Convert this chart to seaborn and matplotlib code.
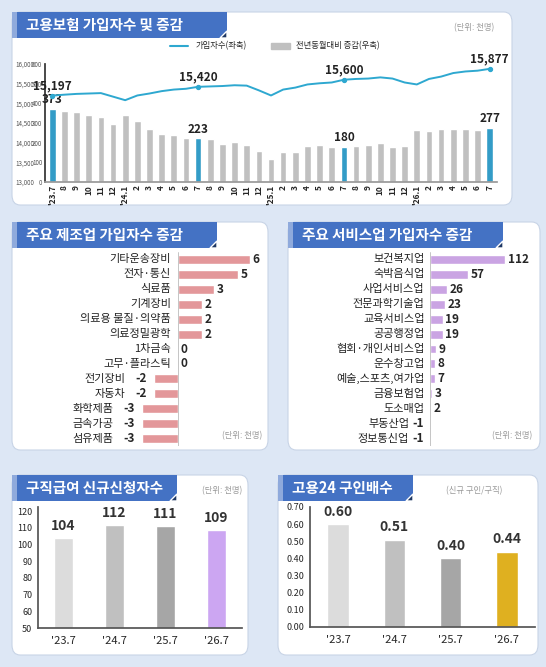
import numpy as np
import pandas as pd
import seaborn as sns
import matplotlib.pyplot as plt
from matplotlib.patches import FancyBboxPatch, Rectangle, Polygon
from matplotlib.lines import Line2D

sns.set_theme(style='white')
plt.rcParams['font.family'] = ['Noto Sans CJK KR', 'DejaVu Sans']

# ---- data ----
months = ["'23.7", '8', '9', '10', '11', '12', "'24.1", '2', '3', '4', '5', '6', '7', '8', '9', '10', '11', '12',
          "'25.1", '2', '3', '4', '5', '6', '7', '8', '9', '10', '11', '12', "'26.1", '2', '3', '4', '5', '6', '7']
insured = [15197, 15220, 15240, 15250, 15260, 15170, 15080, 15200, 15250, 15310, 15350, 15370, 15420,
           15430, 15440, 15460, 15450, 15330, 15200, 15350, 15400, 15480, 15510, 15530, 15600, 15620,
           15630, 15660, 15630, 15530, 15480, 15620, 15680, 15770, 15810, 15830, 15877]
yoy = [373, 360, 358, 340, 333, 297, 340, 312, 270, 243, 240, 226, 223, 220, 195, 205, 187, 160,
       115, 153, 152, 183, 187, 180, 180, 183, 190, 200, 177, 183, 262, 260, 272, 272, 267, 265, 277]
label_idx = [0, 12, 24, 36]

mfg_names = ['기타운송장비', '전자·통신', '식료품', '기계장비', '의료용 물질·의약품', '의료정밀광학', '1차금속',
             '고무·플라스틱', '전기장비', '자동차', '화학제품', '금속가공', '섬유제품']
mfg_vals = [6, 5, 3, 2, 2, 2, 0, 0, -2, -2, -3, -3, -3]

svc_names = ['보건복지업', '숙박음식업', '사업서비스업', '전문과학기술업', '교육서비스업', '공공행정업',
             '협회·개인서비스업', '운수창고업', '예술,스포츠,여가업', '금융보험업', '도소매업', '부동산업', '정보통신업']
svc_vals = [112, 57, 26, 23, 19, 19, 9, 8, 7, 3, 2, -1, -1]

years = ["'23.7", "'24.7", "'25.7", "'26.7"]
claims = [104, 112, 111, 109]
ratio = [0.60, 0.51, 0.40, 0.44]

W, H = 546, 667
fig = plt.figure(figsize=(W / 100, H / 100), dpi=100)
fig.patch.set_facecolor('#dde7f5')


def fx(x):
    return x / W


def fy(y):
    return 1 - y / H


def rect(x0, y0, x1, y1):
    return [fx(x0), fy(y1), fx(x1 - x0), (y1 - y0) / H]


def new_axes(box):
    a = fig.add_axes(rect(*box))
    a.set_zorder(5)
    a.patch.set_alpha(0)
    return a


def panel(x0, y0, x1, y1, title, tw, unit=None, ux=None):
    fig.patches.append(FancyBboxPatch((fx(x0), fy(y1)), fx(x1 - x0), (y1 - y0) / H,
                                      boxstyle='round,pad=0,rounding_size=0.015',
                                      transform=fig.transFigure, facecolor='white',
                                      edgecolor='#c8d4e6', lw=0.8, zorder=-3))
    fig.patches.append(Rectangle((fx(x0), fy(y0 + 26)), fx(5), 26 / H, transform=fig.transFigure,
                                 facecolor='#8faadc', edgecolor='none', zorder=-2))
    fig.patches.append(Rectangle((fx(x0 + 5), fy(y0 + 26)), fx(tw), 26 / H, transform=fig.transFigure,
                                 facecolor='#4472c4', edgecolor='none', zorder=-2))
    fig.patches.append(Polygon([(fx(x0 + 5 + tw), fy(y0 + 26)), (fx(x0 + 5 + tw - 7), fy(y0 + 26)),
                                (fx(x0 + 5 + tw), fy(y0 + 19))], closed=True,
                               transform=fig.transFigure, facecolor='#1f3864', zorder=-1))
    fig.text(fx(x0 + 14), fy(y0 + 13), title, color='white', fontsize=10.5, fontweight='bold',
             va='center', ha='left', zorder=3)
    if unit:
        fig.text(fx(ux), fy(y0 + 16), unit, color='#999999', fontsize=6, va='center', ha='right')


# ---- top panel ----
panel(12, 12, 512, 205, '고용보험 가입자수 및 증감', 210, '(단위: 천명)', 494)
ax = new_axes((45, 64, 497, 182))
colors = ['#1aa7e0' if i in label_idx else '#c0c0c0' for i in range(len(months))]
df = pd.DataFrame({'m': range(len(months)), 'yoy': yoy, 'ins': insured})
sns.barplot(data=df, x='m', y='yoy', hue='m', palette=colors, legend=False, width=0.55, ax=ax)
ax.set_ylim(0, 600)
ax.yaxis.tick_right()
ax.set_yticks(range(0, 601, 100))
ax.tick_params(axis='y', labelsize=4.5, colors='#555555', pad=2, length=0)
ax.set_xticks(range(len(months)))
ax.set_xticklabels(months, rotation=90, fontsize=6, fontweight='bold')
ax.tick_params(axis='x', length=0, pad=2)
ax.set_xlim(-0.6, len(months) - 0.4)
ax.set_xlabel('')
ax.set_ylabel('')
for s in ['top', 'right']:
    ax.spines[s].set_visible(False)
ax.spines['left'].set_color('#333333')
ax.spines['bottom'].set_color('#999999')
for i in label_idx:
    ax.text(i, yoy[i] + 12, f'{yoy[i]}', ha='center', va='bottom', fontsize=8.5, fontweight='bold',
            color='#222222')

ax2 = ax.twinx()
ax2.patch.set_alpha(0)
sns.lineplot(data=df, x='m', y='ins', color='#2ea8d0', lw=1.4, ax=ax2)
ax2.scatter([i for i in label_idx], [insured[i] for i in label_idx], s=8, color='#2ea8d0', zorder=4)
ax2.set_ylim(13000, 16000)
ax2.yaxis.tick_left()
ax2.set_yticks(range(13000, 16001, 500))
ax2.set_yticklabels([f'{v:,}' for v in range(13000, 16001, 500)])
ax2.tick_params(axis='y', labelsize=4.5, colors='#555555', pad=8, length=0)
ax2.set_ylabel('')
ax2.set_xlabel('')
for s in ax2.spines.values():
    s.set_visible(False)
for i in label_idx:
    ax2.text(i, insured[i] + 90, f'{insured[i]:,}', ha='center', va='bottom', fontsize=8.5,
             fontweight='bold', color='#222222')
handles = [Line2D([], [], color='#2ea8d0', lw=1.5), Rectangle((0, 0), 1, 1, color='#c0c0c0')]
fig.legend(handles, ['가입자수(좌축)', '전년동월대비 증감(우축)'], loc='center', ncol=2,
           bbox_to_anchor=(fx(275), fy(46)), frameon=False, fontsize=6, handlelength=2.2,
           columnspacing=3)


# ---- horizontal bar panels ----
def hbar(box, names, vals, color, xlim, lpad, vpad, npad):
    a = new_axes(box)
    d = pd.DataFrame({'name': names, 'v': vals})
    sns.barplot(data=d, y='name', x='v', color=color, width=0.6, ax=a)
    a.set_xlim(*xlim)
    a.axvline(0, color='#bbbbbb', lw=0.6)
    a.axis('off')
    for i, (n, v) in enumerate(zip(names, vals)):
        if v >= 0:
            a.text(-lpad, i, n, ha='right', va='center', fontsize=8, color='#222222')
            a.text(v + vpad, i, f'{v}', ha='left', va='center', fontsize=8.5, fontweight='bold')
        else:
            a.text(v - lpad, i, f'{v}', ha='right', va='center', fontsize=8.5, fontweight='bold')
            a.text(v - npad, i, n, ha='right', va='center', fontsize=8, color='#222222')
    return a


panel(12, 222, 268, 450, '주요 제조업 가입자수 증감', 200)
hbar((15, 252, 262, 446), mfg_names, mfg_vals, '#f08a8f', (-13.6, 7), 0.6, 0.2, 2.4)
fig.text(fx(262), fy(438), '(단위: 천명)', fontsize=6, color='#999999', ha='right')

panel(288, 222, 540, 450, '주요 서비스업 가입자수 증감', 210)
hbar((292, 252, 535, 446), svc_names, svc_vals, '#cc99ee', (-206, 157), 8, 4, 30)
fig.text(fx(532), fy(438), '(단위: 천명)', fontsize=6, color='#999999', ha='right')


# ---- bottom vertical bar panels ----
def vbar(box, vals, cols, ylim, ticks, fmt, off):
    a = new_axes(box)
    d = pd.DataFrame({'y': years, 'v': vals})
    sns.barplot(data=d, x='y', y='v', hue='y', palette=cols, legend=False, width=0.38, ax=a)
    a.set_ylim(*ylim)
    a.set_yticks(ticks)
    a.set_yticklabels([fmt.format(t) for t in ticks])
    a.tick_params(axis='y', labelsize=6.5, length=0, pad=4)
    a.tick_params(axis='x', labelsize=8, length=0, pad=6)
    a.set_xlabel('')
    a.set_ylabel('')
    for s in ['top', 'right']:
        a.spines[s].set_visible(False)
    a.spines['left'].set_color('#555555')
    a.spines['bottom'].set_color('#555555')
    for i, v in enumerate(vals):
        a.text(i, v + off, fmt.format(v), ha='center', va='bottom', fontsize=10, fontweight='bold',
               color='#333333')


panel(12, 475, 248, 655, '구직급여 신규신청자수', 160, '(단위: 천명)', 242)
vbar((38, 507, 242, 628), claims, ['#dcdcdc', '#c0c0c0', '#a6a6a6', '#cc99ff'], (50, 122.5),
     range(50, 121, 10), '{}', 3)

panel(278, 475, 538, 655, '고용24 구인배수', 130, '(신규 구인/구직)', 502)
vbar((310, 507, 535, 627), ratio, ['#dcdcdc', '#c0c0c0', '#a6a6a6', '#ffc000'], (0, 0.7),
     np.arange(0, 0.71, 0.1), '{:.2f}', 0.03)

fig.savefig('out.png', dpi=100, facecolor=fig.get_facecolor())
